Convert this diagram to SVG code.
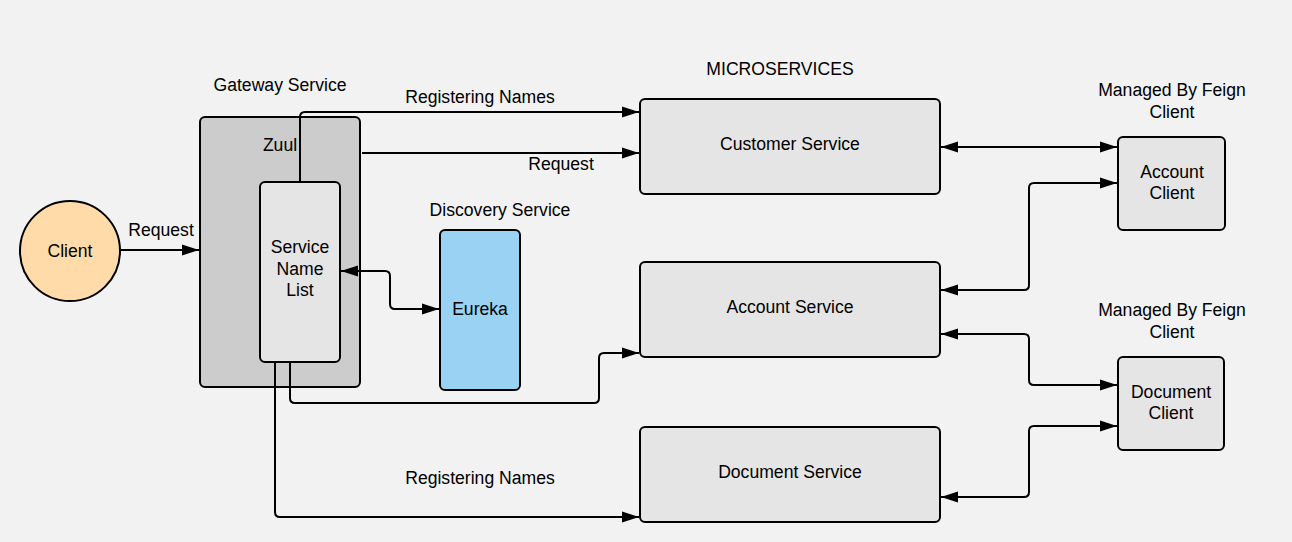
<svg xmlns="http://www.w3.org/2000/svg" width="1292" height="542" viewBox="0 0 1292 542">
<defs>
<marker id="arr" markerUnits="userSpaceOnUse" markerWidth="18" markerHeight="12" refX="17" refY="6" orient="auto-start-reverse">
<path d="M0,0.5 L17,6 L0,11.5 Z" fill="#000"/>
</marker>
<style>
text{font-family:"Liberation Sans",Arial,sans-serif;font-size:17.6px;fill:#000;text-anchor:middle}
.box{stroke:#000;stroke-width:2}
.svc{fill:#e5e5e5}
.con{fill:none;stroke:#000;stroke-width:2}
.end{marker-end:url(#arr)}
.both{marker-start:url(#arr);marker-end:url(#arr)}
</style>
</defs>
<rect width="1292" height="542" fill="#f2f2f2"/>

<g id="gateway">
<rect class="box" x="200" y="117" width="160" height="270" rx="5" fill="#cccccc"/>
<text x="280" y="91">Gateway Service</text>
<text x="280" y="151">Zuul</text>
</g>

<g id="service-name-list">
<rect class="box svc" x="260" y="182" width="80" height="180" rx="5"/>
<text x="300" y="253">Service</text>
<text x="300" y="274.5">Name</text>
<text x="300" y="296">List</text>
</g>

<g id="client">
<circle class="box" cx="70" cy="251" r="50" fill="#ffdba9"/>
<text x="70" y="257">Client</text>
</g>

<g id="eureka">
<text x="500" y="216">Discovery Service</text>
<rect class="box" x="440" y="230" width="80" height="160" rx="5" fill="#9ad2f3"/>
<text x="480" y="315">Eureka</text>
</g>

<g id="microservices-label">
<text x="780" y="74.5">MICROSERVICES</text>
</g>

<g id="customer-service">
<rect class="box svc" x="640" y="99" width="300" height="95" rx="5"/>
<text x="790" y="150">Customer Service</text>
</g>

<g id="account-service">
<rect class="box svc" x="640" y="262" width="300" height="95" rx="5"/>
<text x="790" y="312.5">Account Service</text>
</g>

<g id="document-service">
<rect class="box svc" x="640" y="427" width="300" height="95" rx="5"/>
<text x="790" y="477.5">Document Service</text>
</g>

<g id="account-client">
<text x="1172" y="96">Managed By Feign</text>
<text x="1172" y="118">Client</text>
<rect class="box svc" x="1118" y="137" width="107" height="93" rx="5"/>
<text x="1172" y="178">Account</text>
<text x="1172" y="199">Client</text>
</g>

<g id="document-client">
<text x="1172" y="316">Managed By Feign</text>
<text x="1172" y="338">Client</text>
<rect class="box svc" x="1118" y="357" width="106" height="93" rx="5"/>
<text x="1171" y="398">Document</text>
<text x="1171" y="419">Client</text>
</g>

<g id="connectors">
<path class="con end" d="M120,250 H199"/>
<text x="161" y="236">Request</text>

<path class="con end" d="M300,182 V117 Q300,112 305,112 H639"/>
<text x="480" y="103">Registering Names</text>

<path class="con end" d="M362,153 H639"/>
<text x="561" y="170">Request</text>

<path class="con both" d="M341,271 H385 Q390,271 390,276 V304 Q390,309 395,309 H439"/>

<path class="con end" d="M290,362 V398 Q290,403 295,403 H594 Q599,403 599,398 V358 Q599,353 604,353 H639"/>

<path class="con end" d="M275,362 V512 Q275,517 280,517 H639"/>
<text x="480" y="483.5">Registering Names</text>

<path class="con both" d="M941,147 H1117"/>
<path class="con both" d="M941,290 H1024 Q1029,290 1029,285 V188 Q1029,183 1034,183 H1117"/>
<path class="con both" d="M941,334 H1024 Q1029,334 1029,339 V380 Q1029,385 1034,385 H1117"/>
<path class="con both" d="M941,497 H1024 Q1029,497 1029,492 V431 Q1029,426 1034,426 H1117"/>
</g>
</svg>
